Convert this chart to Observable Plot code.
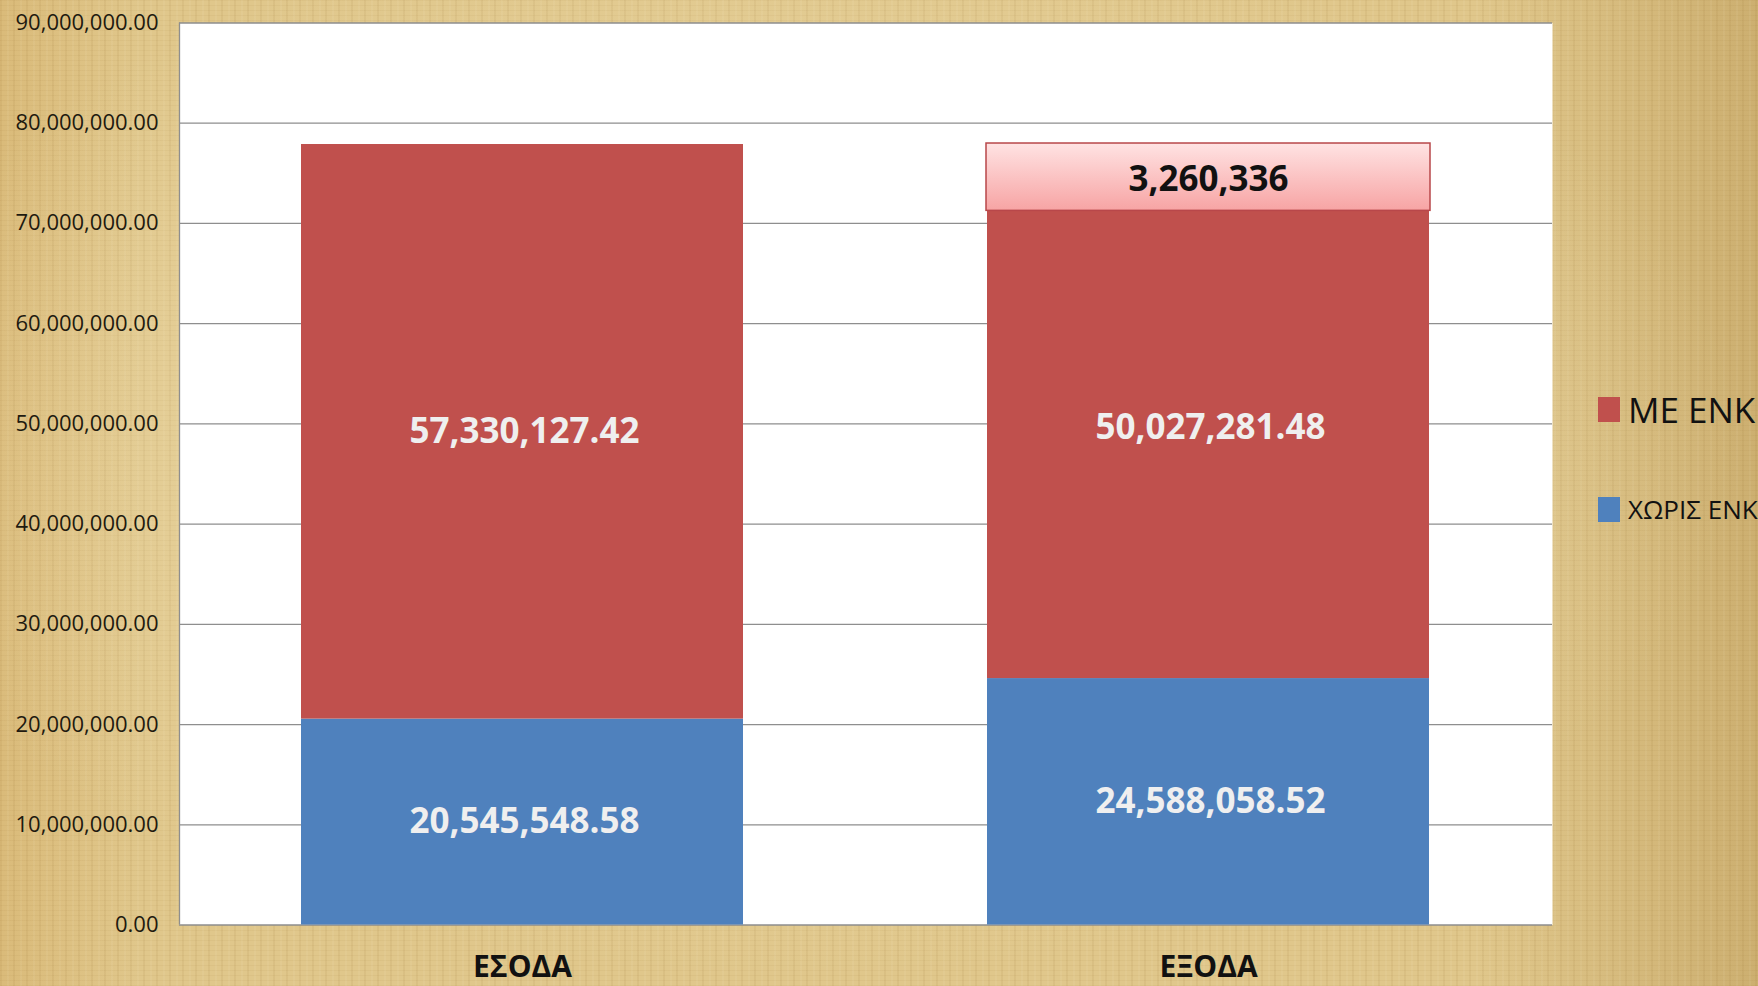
<!DOCTYPE html>
<html><head><meta charset="utf-8">
<script src="https://cdn.jsdelivr.net/npm/d3@7"></script>
<script src="https://cdn.jsdelivr.net/npm/@observablehq/plot@0.6"></script>
<style>
html,body{margin:0;padding:0;}
body{width:1758px;height:986px;overflow:hidden;position:relative;font-family:"Open Sans",sans-serif;
background-color:#e0c78b;
background-image:
 radial-gradient(ellipse at 45% 45%, rgba(255,246,214,0.4), rgba(255,246,214,0) 70%),
 repeating-linear-gradient(90deg, rgba(140,100,35,0.08) 0 2px, rgba(0,0,0,0) 2px 7px, rgba(255,250,230,0.06) 7px 9px, rgba(0,0,0,0) 9px 13px),
 repeating-linear-gradient(0deg, rgba(140,100,35,0.06) 0 1px, rgba(0,0,0,0) 1px 5px),
 linear-gradient(90deg, rgba(200,150,70,0.25), rgba(0,0,0,0) 8%, rgba(0,0,0,0) 84%, rgba(160,120,50,0.3));
}
#chart{position:absolute;left:0;top:0;}
.lg{position:absolute;left:1598px;display:flex;align-items:center;white-space:nowrap;color:#111;}
.lg span.sw{display:inline-block;width:22px;height:25px;margin-right:8px;}
</style>
</head><body>
<div id="chart"></div>
<div class="lg" style="top:389px;height:40px;font-size:35px;"><span class="sw" style="background:#c0504d"></span><span id="lg1"></span></div>
<div class="lg" style="top:491px;height:36px;font-size:26px;"><span class="sw" style="background:#4f81bd"></span><span id="lg2"></span></div>
<script>
const categories = ["ΕΣΟΔΑ", "ΕΞΟΔΑ"];
const seriesNames = ["ΧΩΡΙΣ ΕΝΚ", "ΜΕ ΕΝΚ"];
const withoutENK = [20545548.58, 24588058.52];
const withENK = [57330127.42, 50027281.48];
const gapValues = [0, 3260336];
const yTicks = [0, 10000000, 20000000, 30000000, 40000000, 50000000, 60000000, 70000000, 80000000, 90000000];
const seriesColors = ["#4f81bd", "#c0504d"];

document.getElementById("lg1").textContent = seriesNames[1];
document.getElementById("lg2").textContent = seriesNames[0];

const rows = [];
categories.forEach((c, i) => {
  rows.push({cat: c, series: seriesNames[0], value: withoutENK[i], mid: withoutENK[i] / 2});
  rows.push({cat: c, series: seriesNames[1], value: withENK[i], mid: withoutENK[i] + withENK[i] / 2});
});
const boxes = categories.map((c, i) => {
  const total = withoutENK[i] + withENK[i] + gapValues[i];
  return {cat: c, gap: gapValues[i], top: total, bottom: total - 2 * gapValues[i], mid: total - gapValues[i]};
}).filter(d => d.gap > 0);

const fmt2 = d3.format(",.2f");
const fmt0 = d3.format(",");

const plot = Plot.plot({
  width: 1580,
  height: 986,
  marginLeft: 179,
  marginRight: 28,
  marginTop: 22.5,
  marginBottom: 61.5,
  style: {fontFamily: "Open Sans", background: "transparent", overflow: "visible"},
  x: {domain: categories, paddingInner: 0.355, paddingOuter: 0.1775, label: null},
  y: {domain: [0, 90000000], label: null},
  color: {domain: seriesNames, range: seriesColors},
  marks: [
    Plot.frame({fill: "white", stroke: null}),
    Plot.ruleY(yTicks, {stroke: "#8e8e8e", strokeWidth: 1.3}),
    Plot.axisY({ticks: yTicks, tickFormat: fmt2, tickSize: 0, tickPadding: 21, fontSize: 22, fill: "#1e1a10"}),
    Plot.axisX({tickSize: 0, tickPadding: 31, fontSize: 30, fontWeight: "bold", fill: "#111"}),
    Plot.barY(rows, {x: "cat", y: "value", fill: "series", inset: 0}),
    Plot.rectY(boxes, {x: "cat", y1: "bottom", y2: "top", fill: "url(#pinkGrad)", stroke: "#b8474a", strokeWidth: 1.5, inset: -1, ariaLabel: "gapbox"}),
    Plot.text(boxes, {x: "cat", y: "mid", dy: 3, text: d => fmt0(d.gap), fontSize: 35, fontWeight: "bold", fill: "#111"}),
    Plot.text(rows, {x: "cat", y: "mid", dx: 2, text: d => fmt2(d.value), fontSize: 35, fontWeight: "bold", fill: "#efefef"})
  ]
});

const svg = d3.select(plot);
const defs = svg.insert("defs", ":first-child");
const g = defs.append("linearGradient").attr("id", "pinkGrad").attr("x1", 0).attr("y1", 0).attr("x2", 0).attr("y2", 1);
g.append("stop").attr("offset", "0%").attr("stop-color", "#ffe3e3");
g.append("stop").attr("offset", "100%").attr("stop-color", "#f7a4a4");
const f = defs.append("filter").attr("id", "shadow").attr("x", "-10%").attr("y", "-20%").attr("width", "120%").attr("height", "160%");
f.append("feDropShadow").attr("dx", 1).attr("dy", 4).attr("stdDeviation", 2.5).attr("flood-color", "#5a1010").attr("flood-opacity", 0.5);
svg.selectAll('[aria-label="gapbox"]').attr("filter", "url(#shadow)");

// left border of plot area
svg.append("line").attr("x1", 179.5).attr("x2", 179.5).attr("y1", 22.5).attr("y2", 924.5).attr("stroke", "#8e8e8e").attr("stroke-width", 1.3);

document.getElementById("chart").appendChild(plot);
</script>
</body></html>
